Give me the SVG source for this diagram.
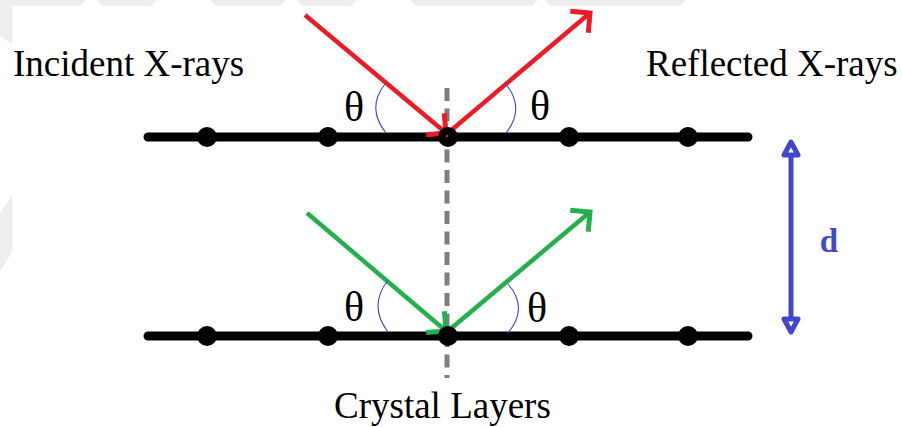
<svg xmlns="http://www.w3.org/2000/svg" width="902" height="427" viewBox="0 0 902 427">
  <style>
    .wm { fill: #eeeeee; }
    .layer { stroke: #000; stroke-width: 9; stroke-linecap: round; fill: none; }
    .atom { fill: #000; }
    .normal { stroke: #7f7f7f; stroke-width: 5; stroke-dasharray: 13 7.5; fill: none; }
    .ray { stroke-width: 4.5; fill: none; stroke-linecap: butt; }
    .red { stroke: #ED1C24; }
    .green { stroke: #22B14C; }
    .arc { stroke: #3F48CC; stroke-width: 1.1; fill: none; }
    .lbl { font-family: "Liberation Serif", "Times New Roman", serif; font-size: 37px; fill: #000; }
    .theta { font-family: "Liberation Serif", "Times New Roman", serif; font-size: 42px; fill: #000; text-anchor: middle; }
    .dlbl { font-family: "Liberation Serif", "Times New Roman", serif; font-size: 33px; font-weight: bold; fill: #3F48CC; text-anchor: middle; }
    .spacing { stroke: #3F48CC; stroke-width: 5; fill: none; }
  </style>
  <defs>
    <marker id="headRed" markerUnits="userSpaceOnUse" viewBox="-20 -20 24 40" markerWidth="24" markerHeight="40" refX="0" refY="0" orient="auto">
      <path d="M-14,-14 L0,0 L-14,14" fill="none" stroke="#ED1C24" stroke-width="5" stroke-linejoin="miter"/>
    </marker>
    <marker id="headGreen" markerUnits="userSpaceOnUse" viewBox="-20 -20 24 40" markerWidth="24" markerHeight="40" refX="0" refY="0" orient="auto">
      <path d="M-14,-14 L0,0 L-14,14" fill="none" stroke="#22B14C" stroke-width="5" stroke-linejoin="miter"/>
    </marker>
    <marker id="headBlue" markerUnits="userSpaceOnUse" viewBox="-4 -12 22 24" markerWidth="22" markerHeight="24" refX="0" refY="0" orient="auto-start-reverse">
      <path d="M0,-7 L13,0 L0,7 Z" fill="none" stroke="#3F48CC" stroke-width="5" stroke-linejoin="round"/>
    </marker>
  </defs>

  <rect width="902" height="427" fill="#ffffff"/>

  <g id="watermark">
    <polygon class="wm" points="0,0 12,0 12,44 0,36"/>
    <polygon class="wm" points="0,213 12,195 12,252 0,272"/>
    <polygon class="wm" points="12,0 86,0 80,6 12,6"/>
    <polygon class="wm" points="97,0 156,0 150,6 103,6"/>
    <polygon class="wm" points="210,0 286,0 280,6 216,6"/>
    <polygon class="wm" points="297,0 356,0 350,6 303,6"/>
    <polygon class="wm" points="410,0 538,0 532,6 416,6"/>
    <polygon class="wm" points="545,0 686,0 680,6 551,6"/>
  </g>

  <g id="normal">
    <line class="normal" x1="447" y1="88" x2="447" y2="378"/>
  </g>

  <g id="layer-top">
    <line class="layer" x1="148" y1="137" x2="748" y2="137"/>
  </g>
  <g id="layer-bottom">
    <line class="layer" x1="148" y1="336" x2="748" y2="336"/>
  </g>

  <g id="connectors">
    <line id="incident-top" class="ray red" x1="305" y1="15" x2="446" y2="133" marker-end="url(#headRed)"/>
    <line id="reflected-top" class="ray red" x1="448" y1="133" x2="590" y2="13" marker-end="url(#headRed)"/>
    <line id="incident-bottom" class="ray green" x1="307" y1="213" x2="446" y2="331" marker-end="url(#headGreen)"/>
    <line id="reflected-bottom" class="ray green" x1="448" y1="331" x2="590" y2="212" marker-end="url(#headGreen)"/>
  </g>

  <g id="atoms-top">
    <circle class="atom" cx="207" cy="137" r="10"/>
    <circle class="atom" cx="328" cy="137" r="10"/>
    <circle class="atom" cx="448" cy="137" r="10"/>
    <circle class="atom" cx="569" cy="137" r="10"/>
    <circle class="atom" cx="688" cy="137" r="10"/>
    <circle cx="447" cy="136" r="1.2" fill="#ED1C24"/>
  </g>
  <g id="atoms-bottom">
    <circle class="atom" cx="207" cy="336" r="10"/>
    <circle class="atom" cx="328" cy="336" r="10"/>
    <circle class="atom" cx="448" cy="336" r="10"/>
    <circle class="atom" cx="569" cy="336" r="10"/>
    <circle class="atom" cx="688" cy="336" r="10"/>
  </g>

  <g id="angles">
    <path class="arc" d="M385,84 Q366,108 386,133"/>
    <path class="arc" d="M505,83 Q526,108 506,133"/>
    <path class="arc" d="M388,280 Q368,306 388,332"/>
    <path class="arc" d="M508,284 Q529,308 508,333"/>
    <text class="theta" x="354" y="121">θ</text>
    <text class="theta" x="540" y="120">θ</text>
    <text class="theta" x="354" y="321">θ</text>
    <text class="theta" x="537" y="322">θ</text>
  </g>

  <g id="label-incident">
    <text class="lbl" x="13" y="76">Incident X-rays</text>
  </g>
  <g id="label-reflected">
    <text class="lbl" x="646" y="76">Reflected X-rays</text>
  </g>
  <g id="label-crystal">
    <text class="lbl" x="334" y="418">Crystal Layers</text>
  </g>

  <g id="spacing-d">
    <line class="spacing" x1="791" y1="155" x2="791" y2="319" marker-start="url(#headBlue)" marker-end="url(#headBlue)"/>
    <text class="dlbl" x="829" y="252">d</text>
  </g>
</svg>
